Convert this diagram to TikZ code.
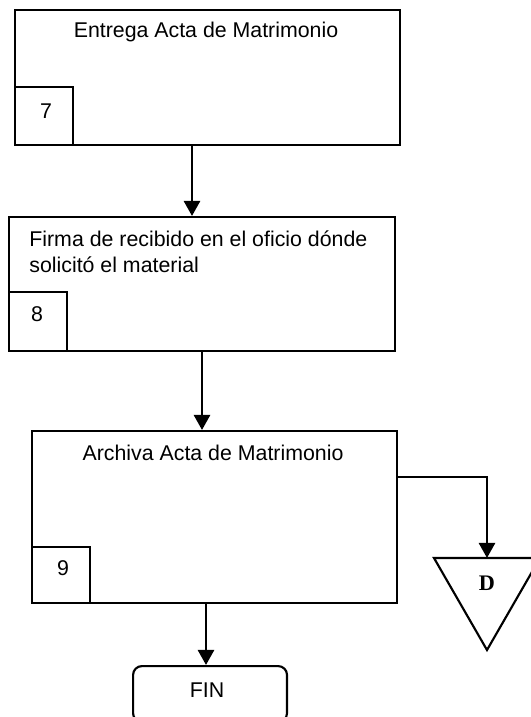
\documentclass[tikz,border=0pt]{standalone}
\usepackage{fontspec}
\setmainfont{Liberation Sans}
\newfontfamily\dfont{Liberation Serif}
\usetikzlibrary{arrows.meta}
\begin{document}
\begin{tikzpicture}[x=0.5625pt,y=-0.5625pt,
  box/.style={draw,line width=1.2pt,inner sep=0pt,anchor=north west},
  arr/.style={line width=1.6pt,-{Triangle[width=9pt,length=8.5pt]}},
  txt/.style={font=\fontsize{12}{14.6}\selectfont,inner sep=0pt}]
\useasboundingbox (0,0) rectangle (531,717);
% boxes
\node[box,minimum width=216.6pt,minimum height=75.9pt] (b1) at (14,9) {};
\node[box,minimum width=32.6pt,minimum height=32.6pt] (s7) at (14,86) {};
\node[box,minimum width=217.1pt,minimum height=75.4pt] (b2) at (8,216) {};
\node[box,minimum width=32.6pt,minimum height=33.2pt] (s8) at (8,291) {};
\node[box,minimum width=205.3pt,minimum height=96.75pt] (b3) at (31,430) {};
\node[box,minimum width=32.6pt,minimum height=31.5pt] (s9) at (31,546) {};
\node[draw,line width=1.2pt,rounded corners=5pt,inner sep=0pt,minimum width=86.6pt,minimum height=31.5pt,anchor=north west] (fin) at (132,665) {};
% texts
\node[txt] (t1) at (206,32) {Entrega Acta de Matrimonio};
\node[txt,anchor=west,align=left] (t2) at (29,252) {Firma de recibido en el oficio dónde\\solicitó el material};
\node[txt] (t3) at (213,453) {Archiva Acta de Matrimonio};
\node[txt] (n7) at (46,111) {7};
\node[txt] (n8) at (37,314) {8};
\node[txt] (n9) at (63,568) {9};
\node[txt] (tf) at (207,690) {FIN};
% triangle D
\coordinate (tritop) at (487,558);
\draw[line width=1.2pt] (434,558) -- (540,558) -- (487,650) -- cycle;
\node[inner sep=0pt,font=\fontsize{12.5}{14}\selectfont\dfont\bfseries] (dl) at (487,583) {D};
% connectors
\draw[arr] (b1.south -| 192,0) -- (b2.north -| 192,0);
\draw[arr] (b2.south -| 202,0) -- (b3.north -| 202,0);
\draw[arr] (b3.east |- 0,477) -| (tritop);
\draw[arr] (b3.south -| 206,0) -- (fin.north -| 206,0);
\end{tikzpicture}
\end{document}
